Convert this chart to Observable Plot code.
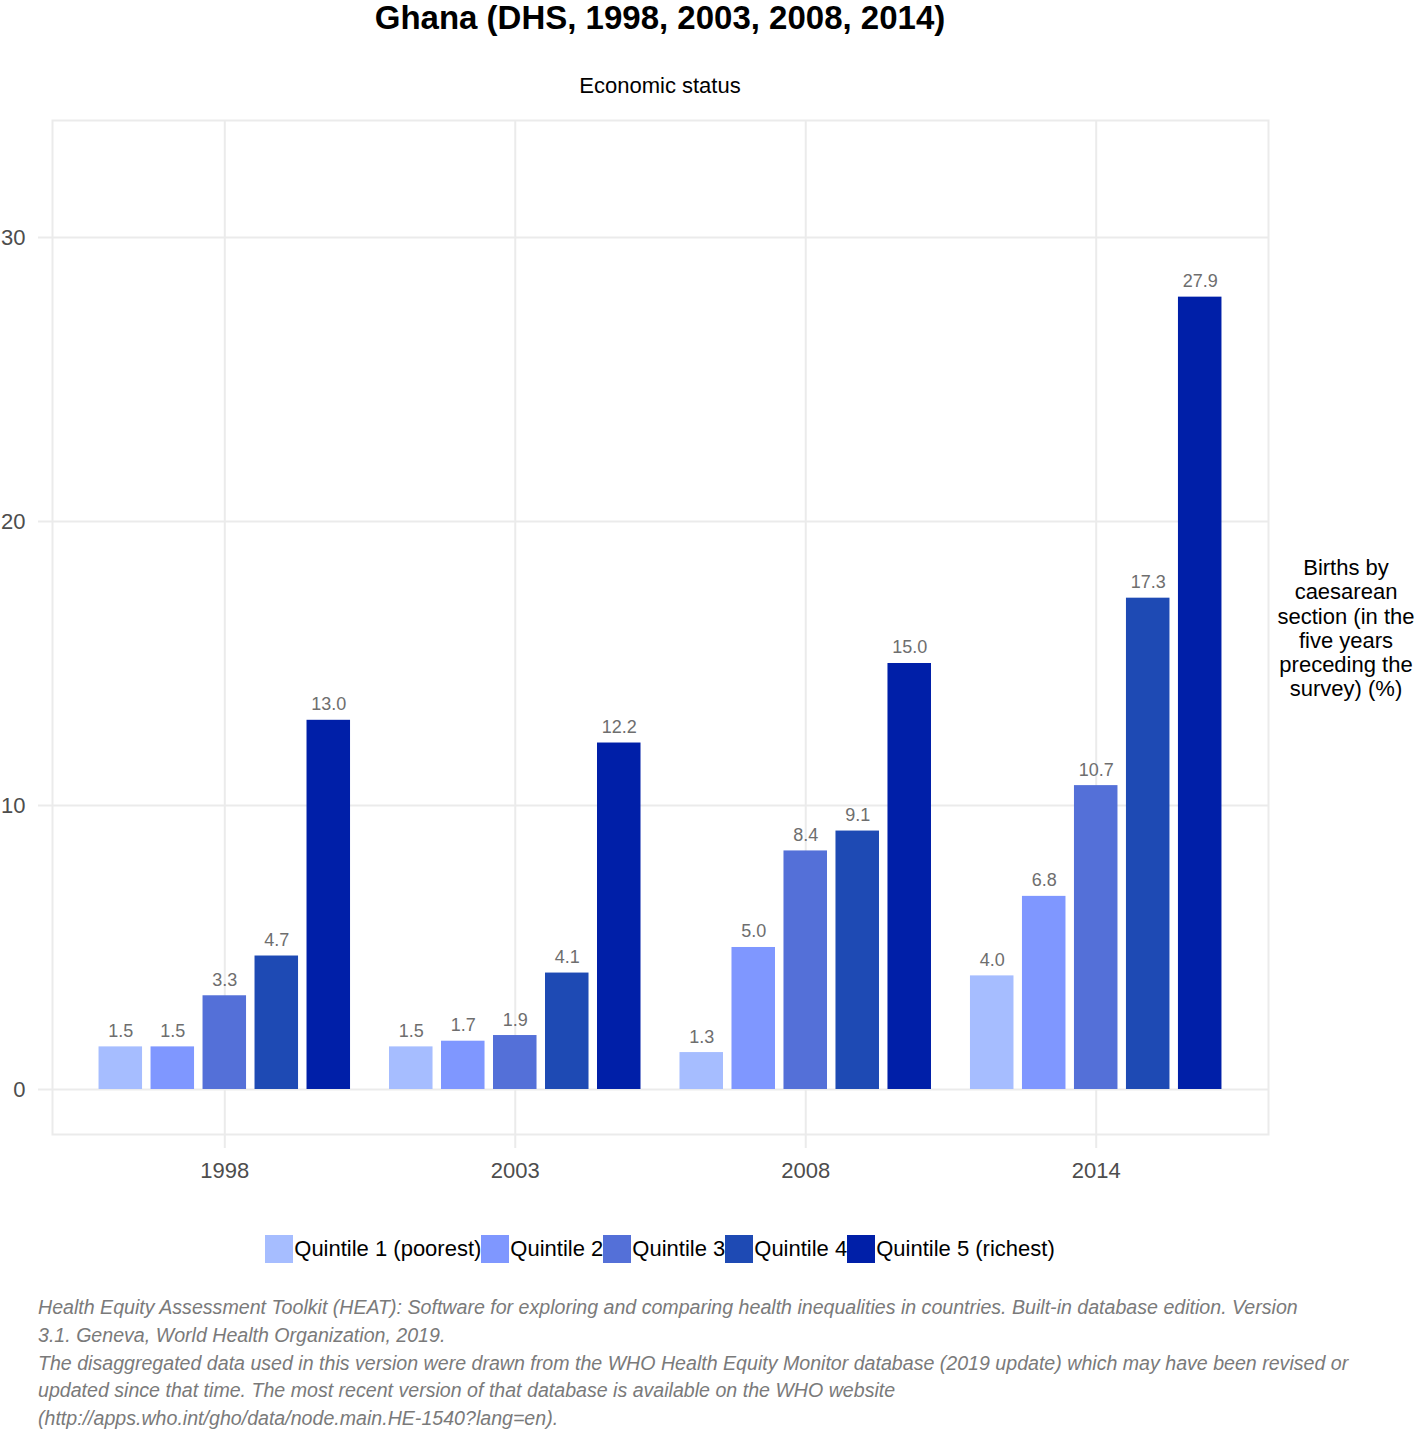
<!DOCTYPE html>
<html>
<head>
<meta charset="utf-8">
<script src="https://cdn.jsdelivr.net/npm/d3@7"></script>
<script src="https://cdn.jsdelivr.net/npm/@observablehq/plot@0.6"></script>
<style>
  body { margin: 0; background: #fff; font-family: "Liberation Sans", Arial, sans-serif; }
  #wrap { position: relative; width: 1416px; height: 1432px; overflow: hidden; }
  #title { position: absolute; left: 0; top: -1px; width: 1320px; text-align: center; font-size: 33px; font-weight: bold; line-height: 38px; color: #000; }
  #subtitle { position: absolute; left: 0; top: 75px; width: 1320px; text-align: center; font-size: 22px; line-height: 22px; color: #000; }
  #chart { position: absolute; left: 0; top: 110px; }
  #ylab { position: absolute; left: 1271px; top: 556px; width: 150px; text-align: center; font-size: 22px; line-height: 24.3px; color: #000; }
  #legend { position: absolute; left: 0; top: 1235px; width: 1320px; display: flex; justify-content: center; align-items: center; font-size: 22px; line-height: 28px; color: #000; }
  #legend .item { display: flex; align-items: center; }
  #legend .sw { width: 28px; height: 28px; margin-right: 1px; }
  #caption { position: absolute; left: 38px; top: 1294px; font-size: 19.6px; line-height: 27.75px; font-style: italic; color: #7a7a7a; white-space: nowrap; }
</style>
</head>
<body>
<div id="wrap">
  <div id="title">Ghana (DHS, 1998, 2003, 2008, 2014)</div>
  <div id="subtitle">Economic status</div>
  <div id="chart"></div>
  <div id="ylab">Births by<br>caesarean<br>section (in the<br>five years<br>preceding the<br>survey) (%)</div>
  <div id="legend"></div>
  <div id="caption">Health Equity Assessment Toolkit (HEAT): Software for exploring and comparing health inequalities in countries. Built-in database edition. Version<br>3.1. Geneva, World Health Organization, 2019.<br>The disaggregated data used in this version were drawn from the WHO Health Equity Monitor database (2019 update) which may have been revised or<br>updated since that time. The most recent version of that database is available on the WHO website<br>(http://apps.who.int/gho/data/node.main.HE-1540?lang=en).</div>
</div>
<script>
const years = ["1998", "2003", "2008", "2014"];
const quintiles = ["Quintile 1 (poorest)", "Quintile 2", "Quintile 3", "Quintile 4", "Quintile 5 (richest)"];
const colors = ["#a6bdff", "#7f97ff", "#5470d8", "#1e4ab4", "#001fa8"];
const values1998 = [1.5, 1.5, 3.3, 4.7, 13.0];
const values2003 = [1.5, 1.7, 1.9, 4.1, 12.2];
const values2008 = [1.3, 5.0, 8.4, 9.1, 15.0];
const values2014 = [4.0, 6.8, 10.7, 17.3, 27.9];
const yTicks = [0, 10, 20, 30];

const series = [values1998, values2003, values2008, values2014];
const data = [];
years.forEach((y, gi) => series[gi].forEach((v, qi) => data.push({year: y, quintile: quintiles[qi], value: v})));

const step = 0.179, half = 0.0749;
const center = d => years.indexOf(d.year) + (quintiles.indexOf(d.quintile) - 2) * step;

const grid = "#ebebeb";
const plot = Plot.plot({
  width: 1416,
  height: 1090,
  marginTop: 10,
  marginBottom: 66,
  marginLeft: 52,
  marginRight: 148,
  style: {fontFamily: "Liberation Sans, Arial, sans-serif", fontSize: "22px", background: "#fff"},
  x: {type: "linear", domain: [-0.5931, 3.5931], label: null},
  y: {domain: [-1.585, 34.12], label: null},
  color: {type: "ordinal", domain: quintiles, range: colors},
  marks: [
    Plot.gridY(yTicks, {stroke: grid, strokeWidth: 2, strokeOpacity: 1}),
    Plot.gridX([0, 1, 2, 3], {stroke: grid, strokeWidth: 2, strokeOpacity: 1}),
    Plot.frame({stroke: grid, strokeWidth: 2}),
    Plot.axisY(yTicks, {tickSize: 14, tickPadding: 13, stroke: grid, strokeWidth: 2, fill: "#4d4d4d", fontSize: 22, label: null}),
    Plot.axisX([0, 1, 2, 3], {tickSize: 14, tickPadding: 14, stroke: grid, strokeWidth: 2, fill: "#4d4d4d", fontSize: 22, label: null, tickFormat: i => years[i]}),
    Plot.rectY(data, {x1: d => center(d) - half, x2: d => center(d) + half, y1: 0, y2: "value", fill: "quintile"}),
    Plot.text(data, {x: center, y: "value", text: d => d.value.toFixed(1), lineAnchor: "bottom", dy: -10, fontSize: 18, fill: "#6e6e6e"})
  ]
});
document.getElementById("chart").appendChild(plot);

const legend = document.getElementById("legend");
quintiles.forEach((q, i) => {
  const it = document.createElement("div");
  it.className = "item";
  const sw = document.createElement("div");
  sw.className = "sw";
  sw.style.background = colors[i];
  const lb = document.createElement("span");
  lb.textContent = q;
  it.appendChild(sw);
  it.appendChild(lb);
  legend.appendChild(it);
});
</script>
</body>
</html>
